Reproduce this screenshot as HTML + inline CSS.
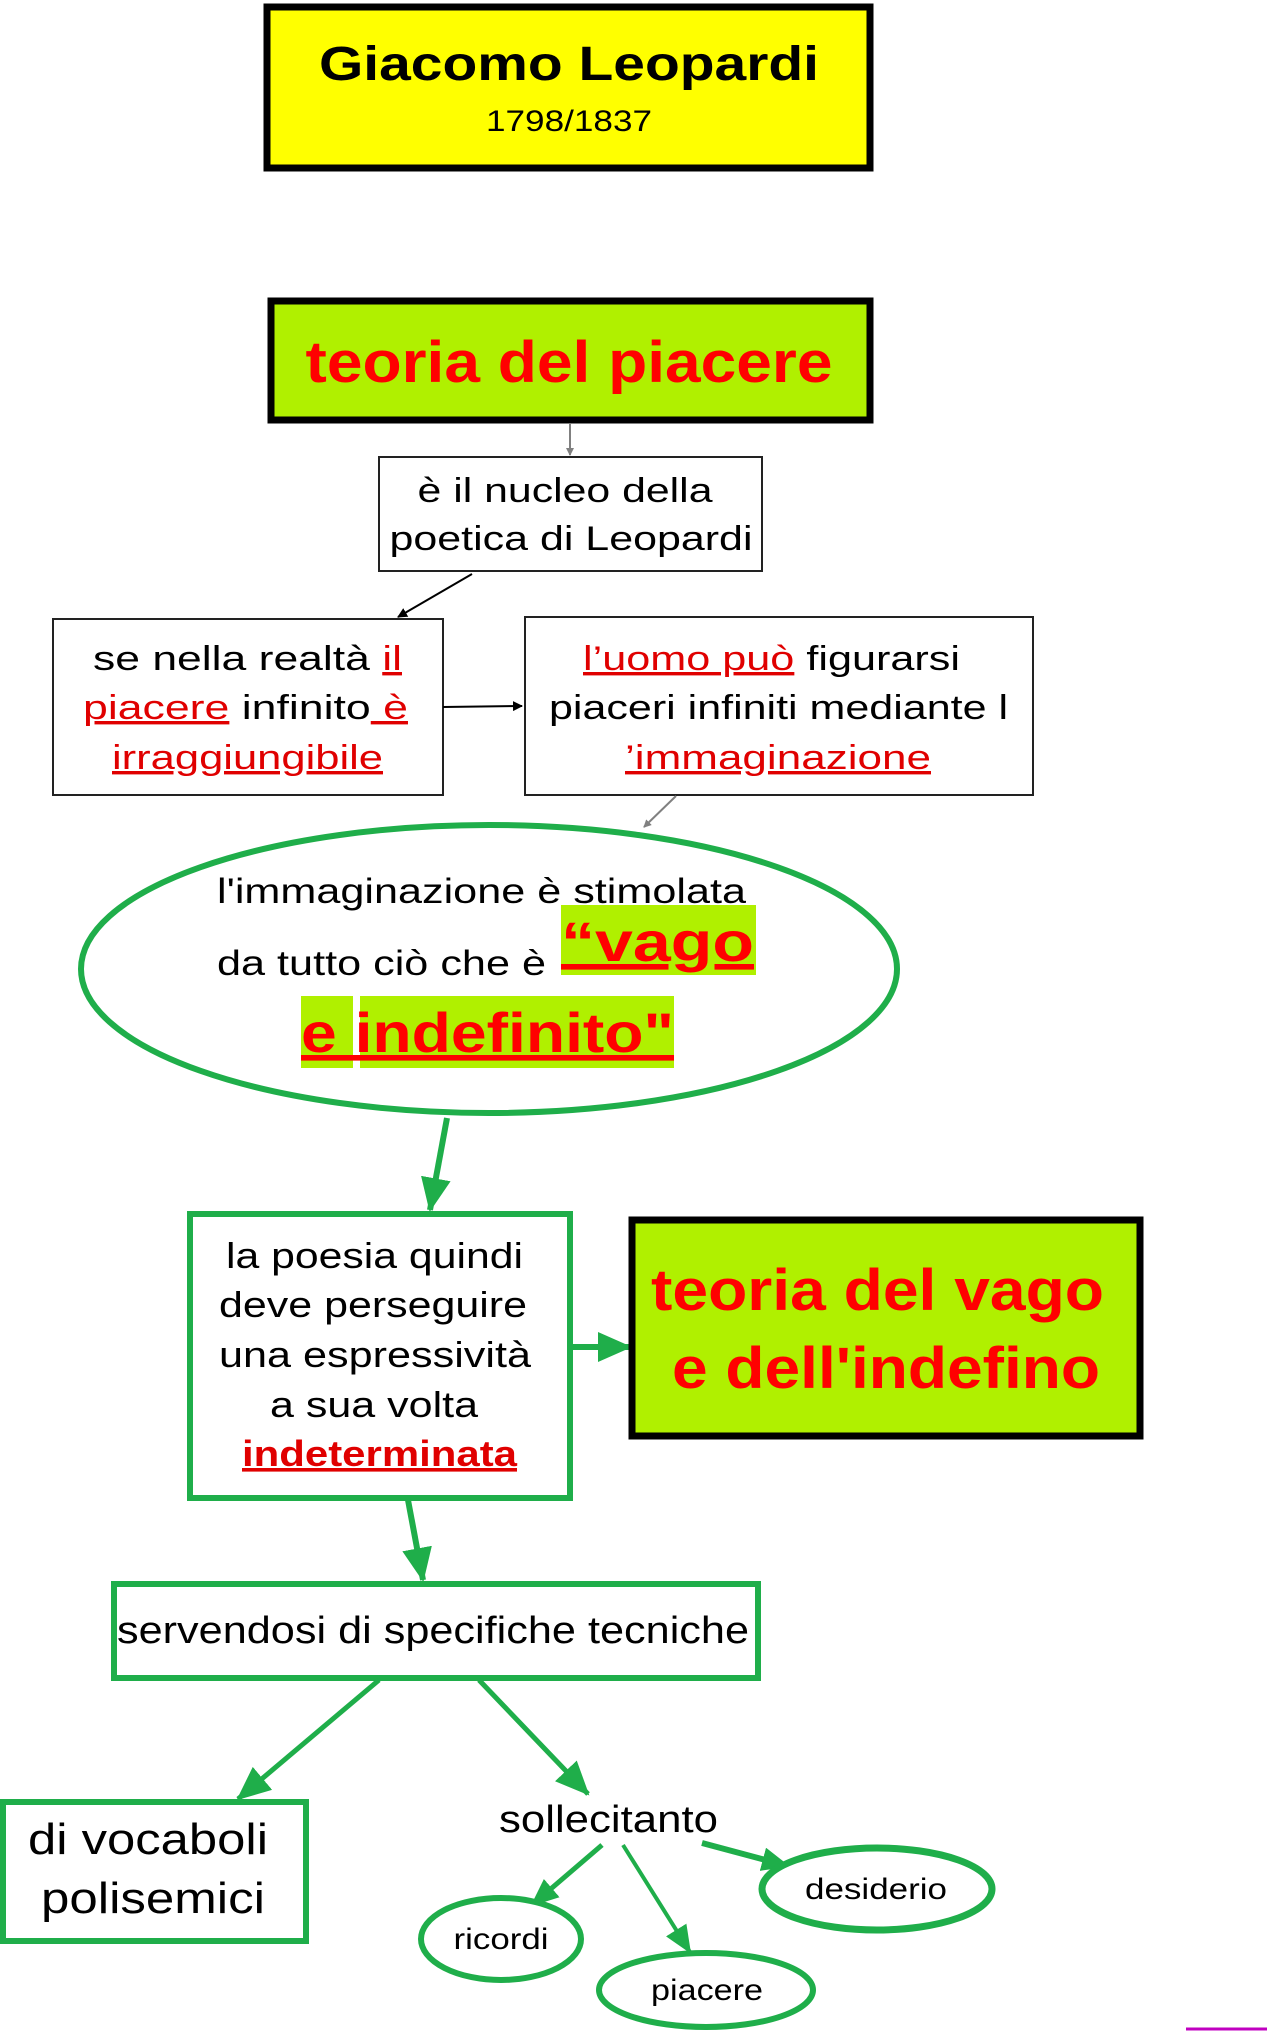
<!DOCTYPE html>
<html><head><meta charset="utf-8"><style>
html,body{margin:0;padding:0;background:#fff}
svg{display:block}
text{font-family:"Liberation Sans",Arial,sans-serif}
</style></head><body>
<svg width="1276" height="2031" viewBox="0 0 1276 2031" xmlns="http://www.w3.org/2000/svg">
<defs>
<marker id="ag" markerWidth="8" markerHeight="8" refX="7" refY="4" orient="auto" markerUnits="userSpaceOnUse"><path d="M0,0 L8,4 L0,8 z" fill="#808080"/></marker>
<marker id="ab" markerWidth="10" markerHeight="10" refX="9" refY="5" orient="auto" markerUnits="userSpaceOnUse"><path d="M0,0 L10,5 L0,10 z" fill="#000"/></marker>
<marker id="agr" markerWidth="34" markerHeight="30" refX="32" refY="15" orient="auto" markerUnits="userSpaceOnUse"><path d="M0,0 L34,15 L0,30 z" fill="#1fae4a"/></marker>
<marker id="agrs" markerWidth="28" markerHeight="24" refX="26" refY="12" orient="auto" markerUnits="userSpaceOnUse"><path d="M0,0 L28,12 L0,24 z" fill="#1fae4a"/></marker>
</defs>

<!-- Title -->
<rect x="267" y="7" width="603" height="161" fill="#ffff00" stroke="#000" stroke-width="7"/>
<text x="569" y="80" font-size="48" font-weight="bold" text-anchor="middle" textLength="500" lengthAdjust="spacingAndGlyphs">Giacomo  Leopardi</text>
<text x="569" y="131" font-size="30" text-anchor="middle" textLength="166" lengthAdjust="spacingAndGlyphs">1798/1837</text>

<!-- teoria del piacere -->
<rect x="271" y="301" width="599" height="119" fill="#b0f000" stroke="#000" stroke-width="7"/>
<text x="569" y="382" font-size="58" font-weight="bold" fill="#ff0000" text-anchor="middle" textLength="527" lengthAdjust="spacingAndGlyphs">teoria del piacere</text>

<line x1="570" y1="423" x2="570" y2="455" stroke="#808080" stroke-width="2" marker-end="url(#ag)"/>

<!-- nucleo -->
<rect x="379" y="457" width="383" height="114" fill="#fff" stroke="#222" stroke-width="2"/>
<text x="565" y="502" font-size="34" text-anchor="middle" textLength="295" lengthAdjust="spacingAndGlyphs">è il nucleo della</text>
<text x="571" y="550" font-size="34" text-anchor="middle" textLength="363" lengthAdjust="spacingAndGlyphs">poetica di Leopardi</text>

<line x1="472" y1="574" x2="398" y2="617" stroke="#000" stroke-width="2" marker-end="url(#ab)"/>

<!-- left box -->
<rect x="53" y="619" width="390" height="176" fill="#fff" stroke="#222" stroke-width="2"/>
<text x="93" y="670" font-size="34" textLength="309" lengthAdjust="spacingAndGlyphs">se nella realtà <tspan fill="#e00000" text-decoration="underline">il </tspan></text>
<text x="83" y="719" font-size="34" textLength="325" lengthAdjust="spacingAndGlyphs"><tspan fill="#e00000" text-decoration="underline">piacere</tspan> infinito<tspan fill="#e00000" text-decoration="underline"> è </tspan></text>
<text x="112" y="769" font-size="34" fill="#e00000" text-decoration="underline" textLength="271" lengthAdjust="spacingAndGlyphs">irraggiungibile</text>

<line x1="443" y1="707" x2="522" y2="706" stroke="#000" stroke-width="2" marker-end="url(#ab)"/>

<!-- right box -->
<rect x="525" y="617" width="508" height="178" fill="#fff" stroke="#222" stroke-width="2"/>
<text x="583" y="670" font-size="34" textLength="377" lengthAdjust="spacingAndGlyphs"><tspan fill="#e00000" text-decoration="underline">l’uomo può</tspan> figurarsi</text>
<text x="549" y="719" font-size="34" textLength="459" lengthAdjust="spacingAndGlyphs">piaceri infiniti mediante l</text>
<text x="625" y="769" font-size="34" fill="#e00000" text-decoration="underline" textLength="306" lengthAdjust="spacingAndGlyphs">’immaginazione</text>

<line x1="676" y1="796" x2="644" y2="827" stroke="#808080" stroke-width="2" marker-end="url(#ag)"/>

<!-- ellipse -->
<ellipse cx="489" cy="969" rx="408" ry="144" fill="#fff" stroke="#1fae4a" stroke-width="6"/>
<text x="217" y="903" font-size="35" textLength="529" lengthAdjust="spacingAndGlyphs">l'immaginazione è stimolata</text>
<text x="217" y="975" font-size="35" textLength="329" lengthAdjust="spacingAndGlyphs">da tutto ciò che è</text>
<rect x="561" y="905" width="195" height="70" fill="#b0f000"/>
<text x="561" y="961" font-size="56" font-weight="bold" fill="#ff0000" text-decoration="underline" textLength="193" lengthAdjust="spacingAndGlyphs">“vago </text>
<rect x="301" y="996" width="52" height="72" fill="#b0f000"/>
<rect x="360" y="996" width="314" height="72" fill="#b0f000"/>
<text x="301" y="1052" font-size="56" font-weight="bold" fill="#ff0000" text-decoration="underline" textLength="373" lengthAdjust="spacingAndGlyphs">e  indefinito"</text>

<line x1="447" y1="1118" x2="430" y2="1210" stroke="#1fae4a" stroke-width="6" marker-end="url(#agr)"/>

<!-- poesia -->
<rect x="190" y="1214" width="380" height="284" fill="#fff" stroke="#1fae4a" stroke-width="6"/>
<text x="226" y="1268" font-size="36" textLength="297" lengthAdjust="spacingAndGlyphs">la poesia quindi</text>
<text x="219" y="1317" font-size="36" textLength="308" lengthAdjust="spacingAndGlyphs">deve perseguire</text>
<text x="219" y="1367" font-size="36" textLength="312" lengthAdjust="spacingAndGlyphs">una espressività</text>
<text x="270" y="1417" font-size="36" textLength="208" lengthAdjust="spacingAndGlyphs">a sua volta</text>
<text x="242" y="1466" font-size="36" font-weight="bold" fill="#e00000" text-decoration="underline" textLength="275" lengthAdjust="spacingAndGlyphs">indeterminata</text>

<line x1="572" y1="1347" x2="630" y2="1347" stroke="#1fae4a" stroke-width="6" marker-end="url(#agr)"/>

<!-- teoria del vago -->
<rect x="632" y="1220" width="508" height="216" fill="#b0f000" stroke="#000" stroke-width="7"/>
<text x="651" y="1310" font-size="58" font-weight="bold" fill="#ff0000" textLength="453" lengthAdjust="spacingAndGlyphs">teoria del vago</text>
<text x="672" y="1388" font-size="58" font-weight="bold" fill="#ff0000" textLength="428" lengthAdjust="spacingAndGlyphs">e dell'indefino</text>

<line x1="408" y1="1500" x2="423" y2="1580" stroke="#1fae4a" stroke-width="6" marker-end="url(#agr)"/>

<!-- servendosi -->
<rect x="114" y="1584" width="644" height="94" fill="#fff" stroke="#1fae4a" stroke-width="6"/>
<text x="117" y="1643" font-size="38" textLength="632" lengthAdjust="spacingAndGlyphs">servendosi di specifiche tecniche</text>

<line x1="379" y1="1680" x2="238" y2="1799" stroke="#1fae4a" stroke-width="5" marker-end="url(#agr)"/>
<line x1="479" y1="1680" x2="588" y2="1794" stroke="#1fae4a" stroke-width="5" marker-end="url(#agr)"/>

<!-- vocaboli -->
<rect x="3" y="1802" width="303" height="139" fill="#fff" stroke="#1fae4a" stroke-width="6"/>
<text x="28" y="1854" font-size="44" textLength="240" lengthAdjust="spacingAndGlyphs">di vocaboli</text>
<text x="41" y="1913" font-size="44" textLength="224" lengthAdjust="spacingAndGlyphs">polisemici</text>

<text x="499" y="1832" font-size="38" textLength="219" lengthAdjust="spacingAndGlyphs">sollecitanto</text>

<line x1="602" y1="1845" x2="532" y2="1905" stroke="#1fae4a" stroke-width="5" marker-end="url(#agrs)"/>
<line x1="623" y1="1845" x2="690" y2="1952" stroke="#1fae4a" stroke-width="4" marker-end="url(#agrs)"/>
<line x1="702" y1="1843" x2="788" y2="1866" stroke="#1fae4a" stroke-width="6" marker-end="url(#agrs)"/>

<ellipse cx="501" cy="1939" rx="80" ry="41" fill="#fff" stroke="#1fae4a" stroke-width="6"/>
<text x="501" y="1949" font-size="30" text-anchor="middle" textLength="95" lengthAdjust="spacingAndGlyphs">ricordi</text>
<ellipse cx="706" cy="1990" rx="107" ry="37" fill="#fff" stroke="#1fae4a" stroke-width="6"/>
<text x="707" y="2000" font-size="30" text-anchor="middle" textLength="112" lengthAdjust="spacingAndGlyphs">piacere</text>
<ellipse cx="877" cy="1889" rx="115" ry="41" fill="#fff" stroke="#1fae4a" stroke-width="7"/>
<text x="876" y="1899" font-size="30" text-anchor="middle" textLength="142" lengthAdjust="spacingAndGlyphs">desiderio</text>

<line x1="1186" y1="2029" x2="1267" y2="2029" stroke="#c000c0" stroke-width="3"/>
</svg>
</body></html>
